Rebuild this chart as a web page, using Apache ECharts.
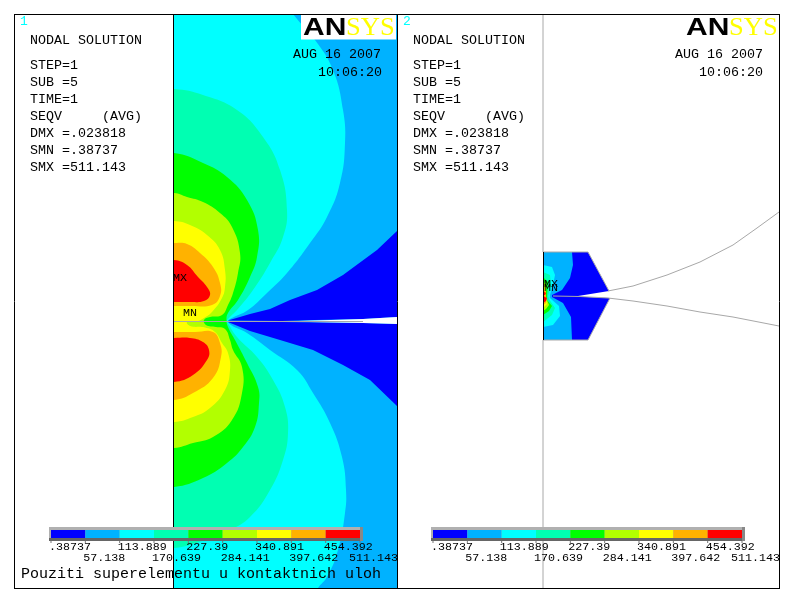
<!DOCTYPE html>
<html>
<head>
<meta charset="utf-8">
<style>html,body{margin:0;padding:0;background:#fff}#main{width:787px;height:602px}</style>
<script src="https://cdn.jsdelivr.net/npm/echarts@6/dist/echarts.min.js"></script>
</head>
<body>
<div id="main"></div>
<script>
// contour levels and colours, lowest band first
const levels = [.38737, 57.138, 113.889, 170.639, 227.39, 284.141, 340.891, 397.642, 454.392, 511.143];
const levelLabels = ['.38737', '57.138', '113.889', '170.639', '227.39', '284.141', '340.891', '397.642', '454.392', '511.143'];
const bandColors = ['#0000ff', '#00b2ff', '#00ffff', '#00ffb2', '#00ff00', '#b2ff00', '#ffff00', '#ffb200', '#ff0000'];
const infoLines = ['STEP=1', 'SUB =5', 'TIME=1', 'SEQV     (AVG)', 'DMX =.023818', 'SMN =.38737', 'SMX =511.143'];

// left window, contours
const modelOutline = [[174,14],[397,14],[397,588],[174,588]];
const blueUpper = [[228,320.5],[250,314],[270,309],[290,300],[317,290],[343,275],[377,250],[397,231],[397,317],[363,319],[315,320],[282,321]];
const blueLower = [[228,322],[282,322],[363,323],[397,324],[397,406],[370,380],[343,365],[313,350],[280,340],[250,331]];
const cyanArea = [[174,0],[285,0],[293,14],[315,40],[333,70],[343,110],[345,143],[340,183],[327,217],[310,243],[287,273],[267,293],[248,310],[232,318],[228,321],[231,325],[247,333],[270,350],[297,370],[313,393],[330,423],[342,457],[346,490],[345,513],[338,550],[327,577],[318,588],[310,602],[174,602]];
const mintArea = [[174,89],[203,95],[237,110],[263,137],[280,170],[287,210],[283,237],[270,263],[253,290],[237,310],[229,318],[227,321],[229,325],[237,337],[257,357],[273,380],[285,407],[288,433],[283,460],[270,490],[250,517],[230,530],[205,540],[174,548]];
const greenArea = [[174,153],[203,163],[227,177],[247,200],[258,230],[257,257],[250,277],[238,300],[228,313],[226.5,320],[228,327],[235,340],[247,363],[258,387],[259,403],[255,427],[243,447],[227,463],[203,478],[174,487]];
const limeArea = [[174,193],[187,197],[203,202],[220,213],[232,227],[240,253],[238,273],[233,293],[228,305],[222,315],[210,317],[204,320],[206,325],[216,327],[225,329],[230,340],[233,350],[242,367],[242,393],[232,420],[213,437],[193,443],[174,448]];
const yellowArea = [[174,221],[190,225],[207,235],[220,250],[225,270],[225,287],[222,298],[212,312],[204,318],[198,321],[187,322],[190,326],[205,327.5],[215,332],[222,343],[228,353],[230,370],[225,390],[210,408],[193,417],[174,422]];
const orangeUpper = [[174,243],[187,244],[200,253],[213,267],[220,283],[220,296],[212,305],[190,306],[174,306]];
const redUpper = [[174,260],[187,265],[198,277],[207,287],[210,295],[204,301],[190,302],[174,302]];
const orangeLower = [[174,332],[195,332],[213,332],[220,343],[221,357],[213,378],[193,393],[174,400]];
const redLower = [[174,338],[190,338],[203,342],[209,350],[207,360],[193,375],[174,382]];
const crackGap = [[282,321.5],[315,320.5],[363,319],[397,317],[397,324],[363,323]];

// right window, the same model zoomed out
const smallOutline = [[543,252],[588,252],[609,291],[575,296.5],[610,298],[588,340],[543,340]];
const smallAzure = [[543,252],[572,252],[573,265],[570,278],[562,290],[552,295],[552,297],[563,303],[571,317],[572,340],[543,340]];
const smallCyan = [[543,265],[552,267],[555,275],[553,285],[550,295],[550,298],[559,306],[560,316],[553,325],[543,327]];
const smallMint = [[543,272],[550,275],[551,285],[548,296],[549,299],[555,308],[552,315],[543,322]];
const smallGreen = [[543,277],[548,282],[547,296],[547,300],[552,306],[549,311],[543,315]];
const smallLime = [[543,280],[546,286],[546,297],[547,300],[549,305],[546,309],[543,311]];
const smallYellow = [[543,284],[545,288],[546,296],[546,300],[547,304],[543,308]];
const smallOrange = [[543,288],[546,292],[546,300],[546,303],[543,305]];
const smallRedUpper = [[543,291],[546,293],[545,295],[543,295]];
const smallRedLower = [[543,296],[547,298],[546,301],[543,303]];
const curveUpper = [[608,291],[633,286],[667,275],[700,262],[733,245],[757,228],[779,212]];
const curveLower = [[553,296],[580,296.5],[608,298],[633,301],[667,306],[700,312],[733,317],[779,326]];

// [points, band, smoothed]
const modelFills = [
  [modelOutline, 1, false], [cyanArea, 2, true], [blueUpper, 0, false], [blueLower, 0, false],
  [mintArea, 3, true], [greenArea, 4, true], [limeArea, 5, true], [yellowArea, 6, true],
  [orangeUpper, 7, true], [orangeLower, 7, true], [redUpper, 8, true], [redLower, 8, true],
  [crackGap, -1, false]
];
const smallFills = [
  [smallOutline, 0], [smallAzure, 1], [smallCyan, 2], [smallMint, 3], [smallGreen, 4], [smallLime, 5],
  [smallYellow, 6], [smallOrange, 7], [smallRedUpper, 8], [smallRedLower, 8]
];

const black = '#000', grey = '#a8a8a8';
const lines = [
  [[[174,321.5],[363,321.5]], grey], [[[543,14],[543,252]], grey], [[[543,340],[543,588]], grey],
  [curveUpper, grey], [curveLower, grey], [[[588,252],[609,291]], grey], [[[610,298],[588,340]], grey],
  [[[543,252],[588,252]], grey], [[[543,340],[588,340]], grey],
  [[[543.5,252],[543.5,340]], black], [[[173.5,14],[173.5,588]], black],
  [[[14.5,14.5],[779.5,14.5]], black], [[[14.5,588.5],[779.5,588.5]], black],
  [[[14.5,14],[14.5,589]], black], [[[397.5,14],[397.5,589]], black], [[[779.5,14],[779.5,589]], black]
];

// text: [x, y, string, colour, font size]
const texts = [];
[[0, 1], [383, 2]].forEach(([dx, n]) => {
  texts.push([20 + dx, 22, String(n), '#00ffff', 13]);
  texts.push([30 + dx, 40, 'NODAL SOLUTION', black, 13.33]);
  infoLines.forEach((s, i) => texts.push([30 + dx, 65 + i * 17, s, black, 13.33]));
});
texts.push([293, 54, 'AUG 16 2007', black, 13.33], [318, 72, '10:06:20', black, 13.33]);
texts.push([675, 54, 'AUG 16 2007', black, 13.33], [699, 72, '10:06:20', black, 13.33]);
texts.push([21, 574, 'Pouziti superelementu u kontaktnich uloh', black, 15]);
texts.push([173, 278, 'MX', black, 11.67], [183, 313, 'MN', black, 11.67]);
texts.push([544, 284, 'MX', black, 11.67], [544, 288, 'MN', black, 11.67]);

const logos = [[301, 396], [684, 778]];
const barLefts = [51, 433];
const barWidth = 309;

const fixedAxis = (gridIndex, min, max, inverse) => ({type: 'value', gridIndex, min, max, inverse, show: false});

// contours run out past the left edge, the grid clips them there
const pastEdge = pts => [[pts[0][0] - 40, pts[0][1]], ...pts, [pts[pts.length - 1][0] - 40, pts[pts.length - 1][1]]];

function modelItem(params, api) {
  const [pts, band, smoothed] = modelFills[params.dataIndex];
  const use = smoothed ? pastEdge(pts) : pts;
  return {
    type: 'polygon',
    shape: {points: use.map(p => api.coord(p)), smooth: smoothed ? 0.45 : 0},
    style: {fill: band < 0 ? '#fff' : bandColors[band]}
  };
}
function smallItem(params, api) {
  const [pts, band] = smallFills[params.dataIndex];
  return {type: 'polygon', shape: {points: pts.map(p => api.coord(p))}, style: {fill: bandColors[band]}};
}
function lineItem(params, api) {
  const [pts, color] = lines[params.dataIndex];
  return {
    type: 'polyline',
    shape: {points: pts.map(p => api.coord(p))},
    style: {stroke: color, lineWidth: 1, fill: null}
  };
}
function textItem(params, api) {
  const [x, y, s, color, size] = texts[params.dataIndex];
  const c = api.coord([x, y]);
  return {
    type: 'text', x: c[0], y: c[1],
    style: {text: s, fill: color, font: size + 'px "Liberation Mono"', align: 'left', verticalAlign: 'middle'}
  };
}
function logoItem(params, api) {
  const [l, r] = logos[params.dataIndex];
  const a = api.coord([l, 15]), b = api.coord([r, 39.5]);
  return {
    type: 'group',
    children: [
      {type: 'rect', shape: {x: a[0], y: a[1], width: b[0] - a[0], height: b[1] - a[1]}, style: {fill: '#fff'}},
      {type: 'text', x: a[0] + 2, y: a[1] + 13, scaleX: 1.25, style: {text: 'AN', fill: '#000', font: 'bold 24px "Liberation Sans"', verticalAlign: 'middle'}},
      {type: 'text', x: a[0] + 45, y: a[1] + 13, scaleX: 1.02, style: {text: 'SYS', fill: '#ffff00', font: '26px "Liberation Serif"', verticalAlign: 'middle'}}
    ]
  };
}
function barItem(params, api) {
  const a = api.coord([api.value(0), 1]), b = api.coord([api.value(1), 0]);
  return {
    type: 'rect',
    shape: {x: a[0], y: a[1], width: b[0] - a[0], height: b[1] - a[1]},
    style: {fill: bandColors[params.dataIndex]}
  };
}
function barLabelItem(params, api) {
  const i = params.dataIndex;
  const a = api.coord([api.value(0), 0]);
  const x = i === 9 ? a[0] - 11 : a[0] - 2;
  return {
    type: 'group',
    children: [
      {type: 'rect', shape: {x: a[0] - .5, y: a[1] + 3, width: 1, height: 2}, style: {fill: '#777'}},
      {type: 'text', x, y: a[1] + (i % 2 ? 20 : 9), style: {text: levelLabels[i], fill: '#000', font: '11.67px "Liberation Mono"', verticalAlign: 'middle'}}
    ]
  };
}
function frameItem(params, api) {
  const a = api.coord([levels[0], 1]), b = api.coord([levels[9], 0]);
  const x = a[0] - 2, y = a[1] - 3, w = b[0] - a[0] + 5, h = b[1] - a[1] + 6;
  return {
    type: 'group',
    children: [
      {type: 'rect', shape: {x, y, width: w, height: h}, style: {fill: '#b0b0b0'}},
      {type: 'rect', shape: {x, y: y + h - 3, width: w, height: 3}, style: {fill: '#666'}},
      {type: 'rect', shape: {x: x + w - 3, y, width: 3, height: h}, style: {fill: '#888'}}
    ]
  };
}

const series = [
  {type: 'custom', renderItem: modelItem, xAxisIndex: 3, yAxisIndex: 3, data: modelFills.map((f, i) => [i]), clip: true, silent: true, z: 1},
  {type: 'custom', renderItem: smallItem, data: smallFills.map((f, i) => [i]), clip: false, silent: true, z: 1},
  {type: 'custom', renderItem: lineItem, data: lines.map((l, i) => [i]), clip: false, silent: true, z: 2},
  {type: 'custom', renderItem: logoItem, data: logos.map((l, i) => [i]), clip: false, silent: true, z: 3},
  {type: 'custom', renderItem: textItem, data: texts.map((t, i) => [i]), clip: false, silent: true, z: 6}
];
barLefts.forEach((l, k) => {
  const g = k + 1;
  series.push({type: 'custom', renderItem: frameItem, xAxisIndex: g, yAxisIndex: g, data: [[0]], clip: false, silent: true, z: 4});
  series.push({type: 'custom', renderItem: barItem, xAxisIndex: g, yAxisIndex: g, data: bandColors.map((c, i) => [levels[i], levels[i + 1]]), clip: false, silent: true, z: 5});
  series.push({type: 'custom', renderItem: barLabelItem, xAxisIndex: g, yAxisIndex: g, data: levels.map(v => [v]), clip: false, silent: true, z: 6});
});

const chart = echarts.init(document.getElementById('main'), null, {renderer: 'canvas', devicePixelRatio: 1});
chart.setOption({
  animation: false,
  backgroundColor: '#fff',
  grid: [
    {left: 0, top: 0, width: 787, height: 602},
    {left: barLefts[0], top: 530, width: barWidth, height: 8},
    {left: barLefts[1], top: 530, width: barWidth, height: 8},
    {left: 174, top: 14, width: 223, height: 574}
  ],
  xAxis: [
    fixedAxis(0, 0, 787, false),
    {type: 'value', gridIndex: 1, min: levels[0], max: levels[9], show: false},
    {type: 'value', gridIndex: 2, min: levels[0], max: levels[9], show: false},
    fixedAxis(3, 174, 397, false)
  ],
  yAxis: [fixedAxis(0, 0, 602, true), fixedAxis(1, 0, 1, false), fixedAxis(2, 0, 1, false), fixedAxis(3, 14, 588, true)],
  series
});
</script>
</body>
</html>
